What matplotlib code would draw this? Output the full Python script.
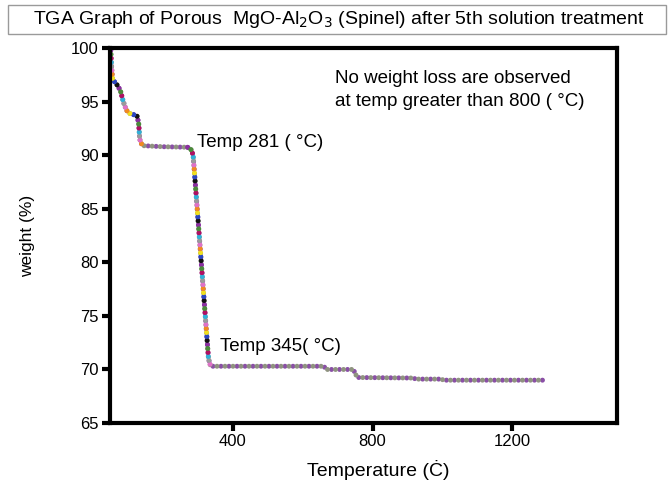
#TGA curve of porous MgO-Al2O3 spinel drawn as multicoloured beads
import matplotlib.pyplot as plt
from matplotlib.patches import Rectangle

plt.rcParams['font.family'] = ['Liberation Sans', 'DejaVu Sans']

temp = [50, 52, 55, 62, 70, 78, 86, 95, 105, 125, 130, 133, 140,
        200, 270, 281, 286, 300, 315, 330, 336,
        660, 668, 745, 752, 758, 915, 925, 995, 1005, 1290]
weight = [99.8, 98.5, 97.2, 96.8, 96.5, 96.0, 95.0, 94.2, 93.9, 93.7, 93.0, 91.5, 90.9,
          90.8, 90.75, 90.5, 90.0, 84.0, 77.5, 71.0, 70.3,
          70.3, 70.0, 70.0, 69.5, 69.25, 69.2, 69.1, 69.1, 69.0, 69.0]

# index ranges of the two weight-loss steps
drops = [(0, 13), (14, 21)]

flat_colors = ['#8a4fa6', '#8f9380']
drop_colors = ['#8b2fa0', '#111111', '#2a46c0', '#f0e020', '#f08a20',
               '#e070c8', '#9a9a9a', '#30b0d8', '#b01060', '#4a8a3a']

fig = plt.figure(figsize=(6.71, 4.82), dpi=100)
ax = fig.add_axes([0.164, 0.1224, 0.7555, 0.7776])


def beads(x, y, colors, lw=3.6, step=0.8):
    n = len(colors)
    for i, c in enumerate(colors):
        ax.plot(x, y, color=c, lw=lw, dash_capstyle='round',
                linestyle=(i * step, (0.001, n * step - 0.001)))


beads(temp, weight, flat_colors)
for a, b in drops:
    beads(temp[a:b], weight[a:b], drop_colors)

ax.set_xlim(48, 1500)
ax.set_ylim(65, 100)
ax.set_xticks([400, 800, 1200])
ax.set_yticks([65, 70, 75, 80, 85, 90, 95, 100])
for s in ax.spines.values():
    s.set_linewidth(3)
ax.tick_params(width=3, length=6, labelsize=12, pad=2)

ax.set_xlabel('Temperature (Ċ)', fontsize=14)
ax.xaxis.set_label_coords(0.53, -0.1)
ax.set_ylabel('weight (%)', fontsize=12.5)
ax.yaxis.set_label_coords(-0.148, 0.5)

ax.text(297, 91.2, 'Temp 281 ( °C)', fontsize=13.5, va='center')
ax.text(363, 72.1, 'Temp 345( °C)', fontsize=13.5, va='center')
ax.text(692, 96.1, 'No weight loss are observed\nat temp greater than 800 ( °C)',
        fontsize=13.5, va='center', linespacing=1.45)

fig.patches.append(Rectangle((8 / 671, 1 - 34 / 482), 658 / 671, 29 / 482,
                             transform=fig.transFigure, fill=False,
                             edgecolor='#9a9a9a', lw=1))
fig.text(0.505, 1 - 19 / 482,
         'TGA Graph of Porous  MgO-Al$_2$O$_3$ (Spinel) after 5th solution treatment',
         ha='center', va='center', fontsize=14)

fig.savefig('out.png', dpi=100)
